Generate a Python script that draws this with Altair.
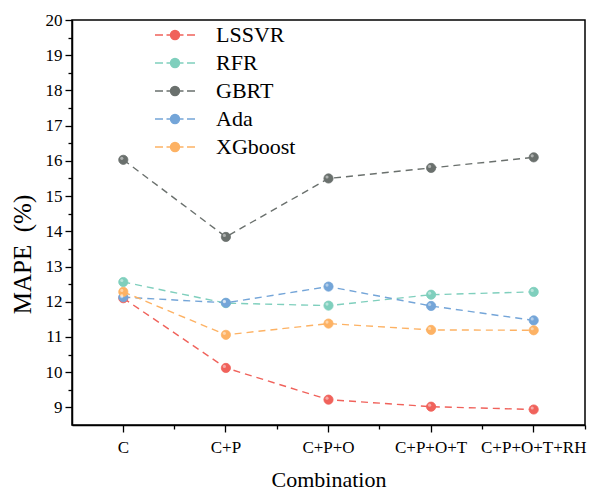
import json
import altair as alt
import pandas as pd

combos = ["C", "C+P", "C+P+O", "C+P+O+T", "C+P+O+T+RH"]
series = ["LSSVR", "RFR", "GBRT", "Ada", "XGboost"]
colors = ["#f0625b", "#7fcfbd", "#6a706d", "#74a5d8", "#fdb264"]

lssvr = [12.10, 10.12, 9.22, 9.02, 8.94]
rfr = [12.56, 11.96, 11.89, 12.20, 12.28]
gbrt = [16.03, 13.84, 15.50, 15.80, 16.10]
ada = [12.13, 11.97, 12.43, 11.88, 11.47]
xgb = [12.28, 11.06, 11.38, 11.20, 11.19]

values = [lssvr, rfr, gbrt, ada, xgb]
rows = []
for s, vals in zip(series, values):
    for c, v in zip(combos, vals):
        rows.append({"Combination": c, "Model": s, "MAPE": v})
df = pd.DataFrame(rows)

y_major = list(range(9, 21))
y_minor = [v + 0.5 for v in range(9, 20)]

FONT = "Liberation Serif, Times New Roman, serif"

legend_path = ("M-4,0L-2.4,0M-1.7,0L-0.9,0M0.9,0L1.7,0M2.4,0L4,0"
               "M-0.9,0A0.9,0.9 0 1,0 0.9,0A0.9,0.9 0 1,0 -0.9,0Z")

xscale = alt.Scale(type="band", domain=combos, paddingInner=0, paddingOuter=0)
yscale = alt.Scale(domain=[8.5, 20], nice=False, zero=False)
cscale = alt.Scale(domain=series, range=colors)

axis_common = dict(labelFont=FONT, labelFontSize=17, labelColor="black",
                   titleFont=FONT, titleColor="black", titleFontWeight="normal",
                   tickColor="black", tickWidth=1.3, grid=False)

base = alt.Chart(df)

lines = base.mark_line(strokeDash=[7, 5], strokeWidth=1.4).encode(
    x=alt.X("Combination:N", sort=combos, scale=xscale,
            axis=alt.Axis(orient="bottom", bandPosition=1, labels=False, title=None,
                          tickSize=4, domain=False, **axis_common)),
    y=alt.Y("MAPE:Q", scale=yscale,
            axis=alt.Axis(orient="left", values=y_minor, labels=False, title=None,
                          tickSize=4, domain=False, **axis_common)),
    color=alt.Color("Model:N", scale=cscale, sort=series),
    detail="Model:N",
)

legend = alt.Legend(
    title=None, orient="none", legendX=92, legendY=4, padding=0,
    symbolType=legend_path, symbolSize=100, symbolStrokeWidth=1.4,
    labelFont=FONT, labelFontSize=22, labelColor="black", labelOffset=30,
    rowPadding=6, labelLimit=300,
)

points = base.mark_point(filled=True, size=85, opacity=1, strokeWidth=0.8).encode(
    x=alt.X("Combination:N", sort=combos, scale=xscale,
            axis=alt.Axis(orient="bottom", title="Combination", labelAngle=0,
                          tickSize=7, labelPadding=7, titlePadding=14,
                          titleFontSize=22, domainColor="black", domainWidth=1.5,
                          **axis_common)),
    y=alt.Y("MAPE:Q", scale=yscale,
            axis=alt.Axis(orient="left", values=y_major, title="MAPE\u00a0\u00a0(%)",
                          tickSize=7, labelPadding=3, domainColor="black", domainWidth=1.5,
                          titleFontSize=25, titleX=-37, titleY=234, **axis_common)),
    color=alt.Color("Model:N", scale=cscale, legend=legend, sort=series),
    stroke=alt.Stroke("Model:N", scale=cscale, legend=legend, sort=series),
)

highlight = base.mark_circle(size=10, color="white", opacity=0.45,
                             xOffset=-1.5, yOffset=-1.5).encode(
    x=alt.X("Combination:N", sort=combos, scale=xscale, axis=None),
    y=alt.Y("MAPE:Q", scale=yscale, axis=None),
)

chart = alt.layer(lines, points, highlight).resolve_scale(
    x="shared", y="shared"
).resolve_axis(
    x="independent", y="independent"
).properties(
    width=513, height=405,
    autosize=alt.AutoSizeParams(type="none"),
    padding={"left": 72, "top": 20, "right": 10, "bottom": 65},
).configure_view(
    stroke="black", strokeWidth=1.5
)

chart.save("out.html", embed_options={"renderer": "svg", "actions": False})
